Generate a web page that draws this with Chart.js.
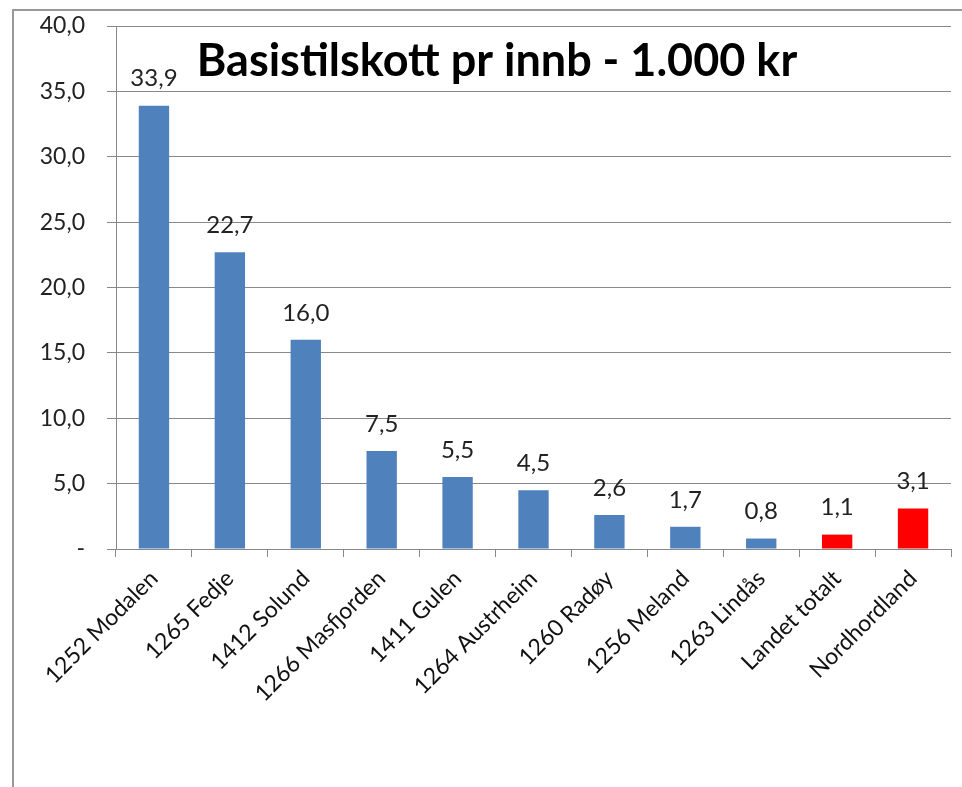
<!DOCTYPE html>
<html>
<head>
<meta charset="utf-8">
<script src="https://cdn.jsdelivr.net/npm/chart.js@4/dist/chart.umd.min.js"></script>
<style>
  html, body { margin: 0; padding: 0; background: #fff; }
  #wrap { position: relative; width: 962px; height: 787px; }
</style>
</head>
<body>
<div id="wrap"><canvas id="myChart"></canvas></div>
<script>
// data
var kommuner = ['1252 Modalen', '1265 Fedje', '1412 Solund', '1266 Masfjorden', '1411 Gulen',
  '1264 Austrheim', '1260 Radøy', '1256 Meland', '1263 Lindås', 'Landet totalt', 'Nordhordland'];
var tilskott = [33.9, 22.7, 16.0, 7.5, 5.5, 4.5, 2.6, 1.7, 0.8, 1.1, 3.1];
var yTicks = [0, 5, 10, 15, 20, 25, 30, 35, 40];
var tittel = 'Basistilskott pr innb - 1.000 kr';

var blue = '#4F81BD';
var red = '#FF0000';
var barColors = kommuner.map(function (k) {
  return (k === 'Landet totalt' || k === 'Nordhordland') ? red : blue;
});

var fontName = 'Lato, "Open Sans", sans-serif';

function komma(v) {
  return v.toFixed(1).replace('.', ',');
}

// frame + title + value labels
var extras = {
  id: 'extras',
  beforeDraw: function (chart) {
    var ctx = chart.ctx;
    ctx.save();
    ctx.fillStyle = '#fff';
    ctx.fillRect(0, 0, chart.width, chart.height);
    ctx.strokeStyle = '#999';
    ctx.lineWidth = 2;
    ctx.beginPath();
    ctx.moveTo(13, chart.height);
    ctx.lineTo(13, 10);
    ctx.lineTo(chart.width, 10);
    ctx.stroke();
    ctx.restore();
  },
  afterDatasetsDraw: function (chart) {
    var ctx = chart.ctx;
    var meta = chart.getDatasetMeta(0);
    ctx.save();
    ctx.fillStyle = '#222';
    ctx.font = '24px ' + fontName;
    ctx.textAlign = 'center';
    ctx.textBaseline = 'bottom';
    meta.data.forEach(function (bar, i) {
      ctx.fillText(komma(tilskott[i]), bar.x, bar.y - 15);
    });
    ctx.fillStyle = '#000';
    ctx.font = 'bold 45px ' + fontName;
    ctx.textBaseline = 'alphabetic';
    ctx.fillText(tittel, 497, 76);
    ctx.restore();
  }
};

new Chart(document.getElementById('myChart'), {
  type: 'bar',
  data: {
    labels: kommuner,
    datasets: [{
      data: tilskott,
      backgroundColor: barColors,
      barPercentage: 0.4,
      categoryPercentage: 1.0
    }]
  },
  options: {
    responsive: true,
    maintainAspectRatio: false,
    animation: false,
    layout: { padding: { left: 0, top: 26, right: 11, bottom: 0 } },
    plugins: {
      legend: { display: false },
      tooltip: { enabled: false }
    },
    scales: {
      x: {
        grid: { display: true, drawOnChartArea: false, drawTicks: true, tickLength: 8, color: '#888', offset: true },
        border: { color: '#888' },
        ticks: {
          autoSkip: false,
          minRotation: 45,
          maxRotation: 45,
          color: '#111',
          padding: 8,
          font: { family: fontName, size: 23 }
        },
        afterFit: function (s) { s.height = 238; }
      },
      y: {
        min: 0,
        max: 40,
        afterBuildTicks: function (s) {
          s.ticks = yTicks.map(function (v) { return { value: v }; });
        },
        grid: { color: '#888', tickLength: 9 },
        border: { color: '#888' },
        ticks: {
          color: '#222',
          padding: 22,
          font: { family: fontName, size: 23 },
          callback: function (v) { return v === 0 ? '-' : komma(v); }
        },
        afterFit: function (s) {
          s.width = 116;
          // tick padding otherwise pushes the plot area down
          s.paddingTop = 0;
          s.paddingBottom = 0;
        }
      }
    }
  },
  plugins: [extras]
});
</script>
</body>
</html>
